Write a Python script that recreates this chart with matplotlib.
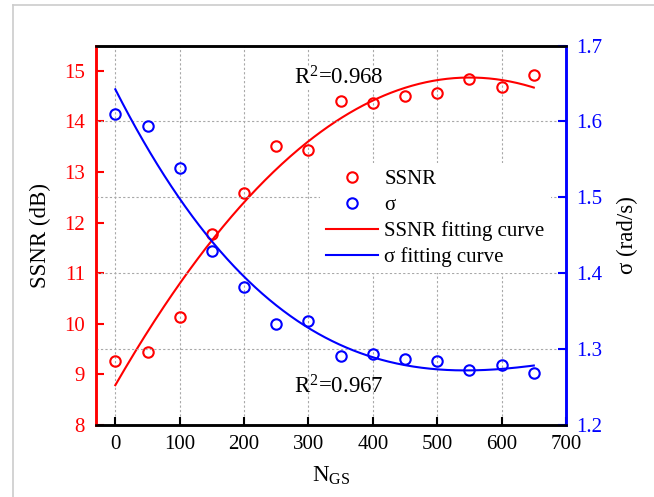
import numpy as np
import matplotlib
matplotlib.use('Agg')
import matplotlib.pyplot as plt
from matplotlib.lines import Line2D

# number of guide stars vs SSNR and sigma
N_GS = [0, 50, 100, 150, 200, 250, 300, 350, 400, 450, 500, 550, 600, 650]
SSNR = [9.26, 9.45, 10.14, 11.78, 12.58, 13.52, 13.44, 14.41, 14.36, 14.51, 14.56, 14.84, 14.68, 14.91]
SIGMA = [1.610, 1.594, 1.539, 1.429, 1.382, 1.333, 1.337, 1.291, 1.293, 1.287, 1.284, 1.272, 1.279, 1.269]
R2_SSNR = '0.968'
R2_SIGMA = '0.967'

plt.rcParams['font.family'] = ['Liberation Serif', 'DejaVu Serif']
plt.rcParams['mathtext.fontset'] = 'custom'
plt.rcParams['mathtext.rm'] = 'Liberation Serif'
plt.rcParams['mathtext.it'] = 'Liberation Serif:italic'

RED = '#ff0000'
BLUE = '#0000ff'

# polynomial fits
xs = np.linspace(0, 650, 300)
p_ssnr = np.polyfit(N_GS, SSNR, 2)
p_sig = np.polyfit(N_GS, SIGMA, 3)

fig = plt.figure(figsize=(6.54, 4.97), dpi=100)
ax = fig.add_axes([96/654, 72/497, 470/654, 379.5/497])
ax2 = ax.twinx()

ax.plot(N_GS, SSNR, 'o', mfc='none', mec=RED, ms=7.5, mew=1.5, zorder=3)
ax.plot(xs, np.polyval(p_ssnr, xs), color=RED, lw=1.5, zorder=3)
ax2.plot(N_GS, SIGMA, 'o', mfc='none', mec=BLUE, ms=7.5, mew=1.5, zorder=3)
ax2.plot(xs, np.polyval(p_sig, xs), color=BLUE, lw=1.5, zorder=3)

ax.set_xlim(-30, 700)
ax.set_ylim(8, 15.5)
ax2.set_ylim(1.2, 1.7)
ax.set_xticks(range(0, 701, 100))
ax.set_yticks(range(8, 16))
ax2.set_yticks([1.2, 1.3, 1.4, 1.5, 1.6, 1.7])

# grid: vertical from x ticks, horizontal from sigma ticks
for xv in range(0, 700, 100):
    ax.axvline(xv, color='#a8a8a8', lw=0.8, ls=(0, (2, 2)), zorder=0)
for yv in [1.3, 1.4, 1.5, 1.6]:
    ax2.axhline(yv, color='#a8a8a8', lw=0.8, ls=(0, (2, 2)), zorder=0)

ax.tick_params(axis='x', direction='in', length=6, width=1.5, labelsize=15, pad=7, top=False)
ax.tick_params(axis='y', direction='in', length=6, width=1.5, labelsize=15, pad=8,
               colors=RED)
ax2.tick_params(axis='y', direction='in', length=6, width=1.5, labelsize=15, pad=7,
                colors=BLUE)

for a in (ax, ax2):
    for s in ('top', 'bottom', 'left', 'right'):
        a.spines[s].set_linewidth(1.8)
    a.spines['left'].set_color(RED)
    a.spines['right'].set_color(BLUE)

ax.set_ylabel('SSNR (dB)', fontsize=16.5, labelpad=9)
ax2.set_ylabel(r'σ (rad/s)', fontsize=16.5, labelpad=11)
ax.set_xlabel(r'N$_{\rm GS}$', fontsize=16.5, labelpad=8)

ax.text(278, 14.86, r'R$^2$=' + R2_SSNR, fontsize=16.5, ha='left', va='center',
        bbox=dict(fc='white', ec='none', pad=0), zorder=2)
ax.text(278, 8.76, r'R$^2$=' + R2_SIGMA, fontsize=16.5, ha='left', va='center', zorder=2)

handles = [
    Line2D([], [], ls='none', marker='o', mfc='none', mec=RED, ms=7.5, mew=1.5),
    Line2D([], [], ls='none', marker='o', mfc='none', mec=BLUE, ms=7.5, mew=1.5),
    Line2D([], [], color=RED, lw=1.5),
    Line2D([], [], color=BLUE, lw=1.5),
]
labels = ['SSNR', 'σ', 'SSNR fitting curve', 'σ fitting curve']
leg = ax2.legend(handles, labels, loc='upper left', bbox_to_anchor=(0.476, 0.69),
                 fontsize=15, frameon=True, handlelength=2.5, handletextpad=0.3,
                 labelspacing=0.3, borderpad=0.3, borderaxespad=0)
leg.get_frame().set_facecolor('white')
leg.get_frame().set_edgecolor('none')
leg.get_frame().set_alpha(1)

# light page border on top and left
fig.add_artist(Line2D([13/654, 1], [1 - 4.5/497, 1 - 4.5/497], color='#cccccc', lw=1.2))
fig.add_artist(Line2D([13/654, 13/654], [0, 1 - 4.5/497], color='#cccccc', lw=1.2))

fig.savefig('out.png', dpi=100)
